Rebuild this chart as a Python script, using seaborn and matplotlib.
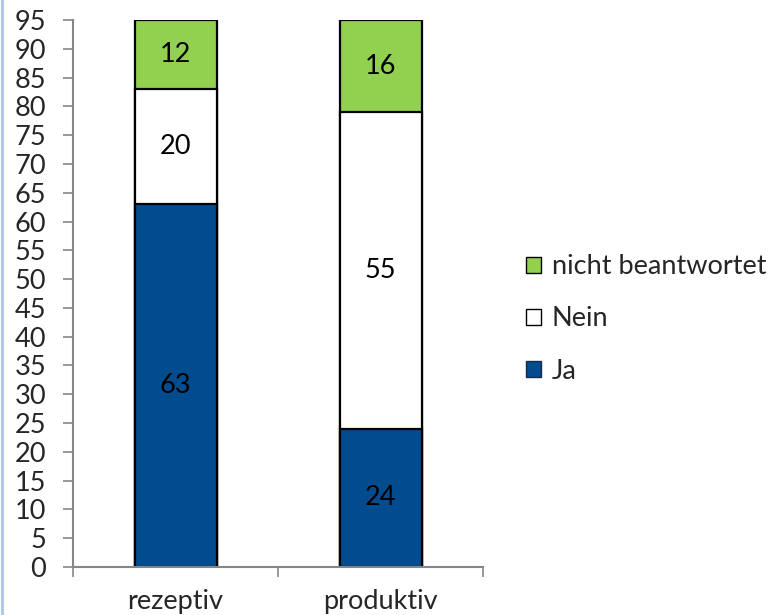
import matplotlib
matplotlib.use("Agg")
import matplotlib.pyplot as plt
from matplotlib.patches import Patch
from matplotlib.lines import Line2D
import seaborn as sns
import pandas as pd
import numpy as np

categories = ["rezeptiv", "produktiv"]
ja = [63, 24]
nein = [20, 55]
nicht_beantwortet = [12, 16]

series_names = ["nicht beantwortet", "Nein", "Ja"]
colors = {"Ja": "#004C8F", "Nein": "#FFFFFF", "nicht beantwortet": "#92D050"}
y_ticks = list(range(0, 96, 5))

sns.set_theme(style="white")
plt.rcParams["font.family"] = ["Lato", "DejaVu Sans"]

df = pd.DataFrame({
    "Kategorie": categories,
    "Ja": ja,
    "Nein": nein,
    "nicht beantwortet": nicht_beantwortet,
})
df["Ja_top"] = df["Ja"]
df["Nein_top"] = df["Ja"] + df["Nein"]
df["nb_top"] = df["Nein_top"] + df["nicht beantwortet"]

fig = plt.figure(figsize=(7.71, 6.15), dpi=100)
ax = fig.add_axes([73 / 771, 1 - 567 / 615, (483 - 73) / 771, (567 - 20) / 615])

fs = 19.5
edge = dict(edgecolor="black", linewidth=1.6)
# stacked bars drawn as cumulative totals, tallest first
sns.barplot(data=df, x="Kategorie", y="nb_top", color=colors["nicht beantwortet"],
            width=0.4, saturation=1, ax=ax, **edge)
sns.barplot(data=df, x="Kategorie", y="Nein_top", color=colors["Nein"],
            width=0.4, saturation=1, ax=ax, **edge)
sns.barplot(data=df, x="Kategorie", y="Ja_top", color=colors["Ja"],
            width=0.4, saturation=1, ax=ax, **edge)

# value labels centred in each segment
for i, row in df.iterrows():
    segs = [(0, row["Ja"]), (row["Ja_top"], row["Nein"]),
            (row["Nein_top"], row["nicht beantwortet"])]
    for base, val in segs:
        ax.text(i, base + val / 2, f"{val}", ha="center", va="center",
                fontsize=fs, color="black")

ax.set_xlim(-0.5, 1.5)
ax.set_ylim(0, 95)
ax.set_yticks(y_ticks)
ax.set_xlabel("")
ax.set_ylabel("")

axis_gray = "#868686"
for s in ["top", "right"]:
    ax.spines[s].set_visible(False)
for s in ["left", "bottom"]:
    ax.spines[s].set_color(axis_gray)
    ax.spines[s].set_linewidth(1.5)

ax.tick_params(axis="y", which="major", direction="out", length=7.5, width=1.2,
               color=axis_gray, labelsize=fs, pad=12, left=True)
ax.set_xticks([0, 1])
ax.set_xticklabels(categories)
ax.set_xticks([-0.5, 0.5, 1.5], minor=True)
ax.tick_params(axis="x", which="major", length=0, labelsize=fs, pad=16)
ax.tick_params(axis="x", which="minor", direction="out", length=7.5, width=1.2,
               color=axis_gray, bottom=True)

handles = [Patch(facecolor=colors[n], edgecolor="black" if n != "Ja" else "#1a2a4a",
                 linewidth=1.0) for n in series_names]
fig.legend(handles, series_names, loc="center left",
           bbox_to_anchor=(526 / 771, 1 - 319 / 615), frameon=False, fontsize=fs,
           handlelength=0.55, handleheight=0.55, handletextpad=0.4, labelspacing=1.0,
           borderpad=0, borderaxespad=0)

# thin light-blue frame line along the left edge
fig.add_artist(Line2D([1.5 / 771, 1.5 / 771], [0, 1], color="#A9C6E6", linewidth=2,
                      transform=fig.transFigure))

fig.savefig("out.png", dpi=100)
